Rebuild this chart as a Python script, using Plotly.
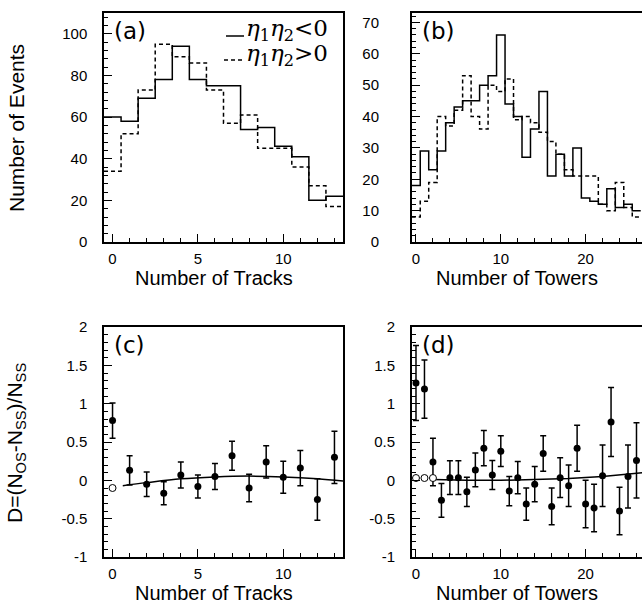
import numpy as np
import plotly.graph_objects as go

W, H = 642, 606

# ---------------- data ----------------
tracks_bins = list(range(14))
tracks_os = [60, 58, 69, 78, 94, 78, 75, 75, 54, 55, 46, 41, 20, 22]
tracks_ss = [34, 52, 73, 95, 89, 86, 73, 57, 61, 45, 45, 36, 27, 17]

towers_bins = list(range(27))
towers_os = [18, 29, 23, 29, 38, 43, 45, 45, 50, 53, 66, 44, 40, 27, 36, 48, 21, 28, 21, 30,
             14, 13, 12, 17, 11, 12, 10]
towers_ss = [8, 13, 19, 40, 37, 42, 53, 40, 36, 50, 48, 52, 39, 40, 38, 35, 32, 28, 23, 21,
             21, 21, 12, 10, 19, 11, 8]

trk_D = [0.78, 0.13, -0.05, -0.17, 0.07, -0.08, 0.05, 0.32, -0.10, 0.24, 0.04, 0.16, -0.25, 0.30]
trk_err = [0.23, 0.19, 0.16, 0.15, 0.17, 0.15, 0.17, 0.19, 0.18, 0.21, 0.21, 0.23, 0.27, 0.34]
trk_open_x = [0]
trk_open_y = [-0.10]
trk_fit_x = [0.6, 2, 4, 6, 8, 10, 12, 13.5]
trk_fit_y = [-0.07, -0.03, 0.02, 0.045, 0.055, 0.045, 0.02, -0.01]

twr_D = [1.27, 1.19, 0.24, -0.26, 0.035, 0.035, -0.15, 0.135, 0.42, 0.07, 0.38, -0.14, 0.035,
         -0.31, -0.05, 0.35, -0.34, 0.035, -0.07, 0.42, -0.31, -0.36, 0.06, 0.76, -0.40, 0.05, 0.26]
twr_err = [0.49, 0.38, 0.31, 0.22, 0.22, 0.22, 0.19, 0.22, 0.23, 0.19, 0.20, 0.19, 0.21, 0.21,
           0.23, 0.23, 0.24, 0.26, 0.27, 0.30, 0.31, 0.31, 0.40, 0.45, 0.31, 0.41, 0.49]
twr_open_x = [0, 1, 2]
twr_open_y = [0.03, 0.03, 0.03]
twr_fit_x = [2, 6, 10, 14, 18, 22, 26.7]
twr_fit_y = [0.01, 0.0, 0.0, 0.01, 0.025, 0.05, 0.10]

D_ticks = [-1, -0.5, 0, 0.5, 1, 1.5, 2]
D_ticktext = ["-1", "-0.5", "0", "0.5", "1", "1.5", "2"]

legend_os = "<i>η</i><sub>1</sub><i>η</i><sub>2</sub>&lt;0"
legend_ss = "<i>η</i><sub>1</sub><i>η</i><sub>2</sub>&gt;0"


def px(x):
    return x / W


def py(y):
    return 1 - y / H


def step(bins, vals):
    edges = list(np.array(bins, dtype=float) - 0.5) + [bins[-1] + 0.5]
    return edges, list(vals) + [vals[-1]]


fig = go.Figure()

# (a)
for vals, dash in [(tracks_os, "solid"), (tracks_ss, "4px,3px")]:
    ex, ey = step(tracks_bins, vals)
    fig.add_trace(go.Scatter(x=ex, y=ey, mode="lines", line_shape="hv",
                             line=dict(color="black", width=1.5, dash=dash),
                             xaxis="x", yaxis="y", showlegend=False))
# (b)
for vals, dash in [(towers_os, "solid"), (towers_ss, "4px,3px")]:
    ex, ey = step(towers_bins, vals)
    fig.add_trace(go.Scatter(x=ex, y=ey, mode="lines", line_shape="hv",
                             line=dict(color="black", width=1.5, dash=dash),
                             xaxis="x2", yaxis="y2", showlegend=False))

# (c)
fig.add_trace(go.Scatter(x=trk_fit_x, y=trk_fit_y, mode="lines", line_shape="spline",
                         line=dict(color="black", width=1.5), xaxis="x3", yaxis="y3",
                         showlegend=False))
fig.add_trace(go.Scatter(x=tracks_bins, y=trk_D, mode="markers",
                         marker=dict(color="black", size=7),
                         error_y=dict(type="data", array=trk_err, color="black",
                                      thickness=1.5, width=3),
                         xaxis="x3", yaxis="y3", showlegend=False))
fig.add_trace(go.Scatter(x=trk_open_x, y=trk_open_y, mode="markers",
                         marker=dict(color="white", size=7, line=dict(color="black", width=1)),
                         xaxis="x3", yaxis="y3", showlegend=False))
# (d)
fig.add_trace(go.Scatter(x=twr_fit_x, y=twr_fit_y, mode="lines", line_shape="linear",
                         line=dict(color="black", width=1.5), xaxis="x4", yaxis="y4",
                         showlegend=False))
fig.add_trace(go.Scatter(x=towers_bins, y=twr_D, mode="markers",
                         marker=dict(color="black", size=7),
                         error_y=dict(type="data", array=twr_err, color="black",
                                      thickness=1.5, width=3),
                         xaxis="x4", yaxis="y4", showlegend=False))
fig.add_trace(go.Scatter(x=twr_open_x, y=twr_open_y, mode="markers",
                         marker=dict(color="white", size=7, line=dict(color="black", width=1)),
                         xaxis="x4", yaxis="y4", showlegend=False))

tickfont = dict(family="Liberation Sans, Arial, sans-serif", size=15, color="black")


def ax(domain, rng, dtick, mdtick, anchor, mirror=True, standoff=5, **kw):
    d = dict(domain=domain, range=rng, anchor=anchor, showline=True, linecolor="black",
             linewidth=1.5, mirror=mirror, ticks="inside", ticklen=8, tickwidth=1,
             tickcolor="black", showgrid=False, zeroline=False, tickfont=tickfont,
             ticklabelstandoff=standoff, automargin=False,
             minor=dict(ticks="inside", ticklen=4, tickwidth=1, tickcolor="black",
                        tickmode="linear", dtick=mdtick, showgrid=False))
    if dtick is not None:
        d["dtick"] = dtick
        d["tick0"] = 0
    d.update(kw)
    return d


xa_dom = [px(104), px(343)]
xb_dom = [px(411.75), 1.0]
top_dom = [py(242), py(13)]
bot_dom = [py(557), py(327)]

fig.update_layout(
    width=W, height=H, margin=dict(l=0, r=0, t=0, b=0, pad=0, autoexpand=False),
    paper_bgcolor="white", plot_bgcolor="white",
    xaxis=ax(xa_dom, [-0.5, 13.5], 5, 1, "y", standoff=2),
    yaxis=ax(top_dom, [0, 110], 20, 4, "x", standoff=12),
    xaxis2=ax(xb_dom, [-0.5, 26.65], 10, 2, "y2", standoff=2),
    yaxis2=ax(top_dom, [0, 73], 10, 2, "x2", mirror=False, standoff=28),
    xaxis3=ax(xa_dom, [-0.5, 13.5], 5, 1, "y3", standoff=2),
    yaxis3=ax(bot_dom, [-1, 2], None, 0.1, "x3", standoff=12,
              tickmode="array", tickvals=D_ticks, ticktext=D_ticktext),
    xaxis4=ax(xb_dom, [-0.5, 26.65], 10, 2, "y4", standoff=2),
    yaxis4=ax(bot_dom, [-1, 2], None, 0.1, "x4", mirror=False, standoff=12,
              tickmode="array", tickvals=D_ticks, ticktext=D_ticktext),
)
for k in ["yaxis3", "yaxis4"]:
    fig.layout[k].minor.tick0 = -1

titlefont = dict(family="Liberation Sans, Arial, sans-serif", size=20, color="black")
labfont = dict(family="DejaVu Sans, sans-serif", size=23, color="black")
legfont = dict(family="DejaVu Serif, serif", size=23, color="black")
annots = [
    dict(text="Number of Tracks", x=px(214), y=py(278), font=titlefont),
    dict(text="Number of Towers", x=px(517), y=py(278), font=titlefont),
    dict(text="Number of Tracks", x=px(214), y=py(593), font=titlefont),
    dict(text="Number of Towers", x=px(517), y=py(593), font=titlefont),
    dict(text="Number of Events", x=px(16), y=py(128), textangle=-90,
         font=dict(titlefont, size=21)),
    dict(text="D=(N<sub>OS</sub>-N<sub>SS</sub>)/N<sub>SS</sub>", x=px(16), y=py(443),
         textangle=-90, font=dict(titlefont, size=21)),
    dict(text="(a)", x=px(112), y=py(31), xanchor="left", font=labfont),
    dict(text="(b)", x=px(420), y=py(31), xanchor="left", font=labfont),
    dict(text="(c)", x=px(112), y=py(345), xanchor="left", font=labfont),
    dict(text="(d)", x=px(420), y=py(345), xanchor="left", font=labfont),
    dict(text=legend_os, x=px(244), y=py(30), xanchor="left", font=legfont),
    dict(text=legend_ss, x=px(244), y=py(55), xanchor="left", font=legfont),
]
for a in annots:
    a.setdefault("xanchor", "center")
    a.setdefault("yanchor", "middle")
    a.update(xref="paper", yref="paper", showarrow=False)
fig.update_layout(annotations=annots)

fig.add_shape(type="line", xref="paper", yref="paper", x0=px(226), x1=px(244),
              y0=py(36), y1=py(36), line=dict(color="black", width=1.5))
fig.add_shape(type="line", xref="paper", yref="paper", x0=px(224), x1=px(244),
              y0=py(60), y1=py(60), line=dict(color="black", width=1.5, dash="4px,3px"))

fig.write_html("out.html", config={"displayModeBar": False},
               post_script="document.body.style.margin='0';")
